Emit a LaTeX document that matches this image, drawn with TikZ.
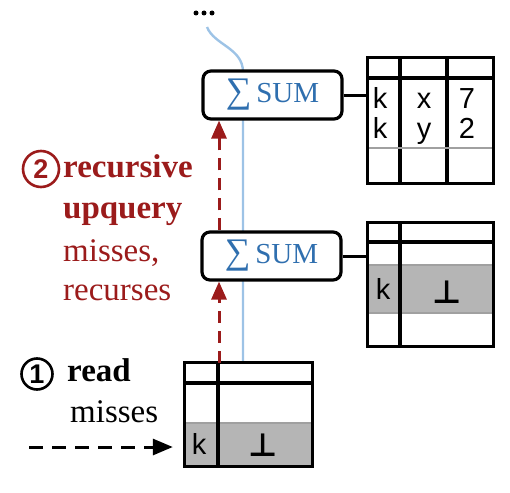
\documentclass[tikz,border=0pt]{standalone}
\usepackage{fontspec}
\setmainfont{Liberation Serif}
\newfontfamily\tabfont{Liberation Sans}
\newfontfamily\symfont{DejaVu Sans}
\usetikzlibrary{arrows.meta,calc}
\definecolor{myred}{HTML}{9B1B1B}
\definecolor{myblue}{HTML}{2F6FAF}
\definecolor{lineblue}{HTML}{9DC3E6}
\definecolor{cellgray}{HTML}{B5B5B5}
\definecolor{edgegray}{HTML}{A0A0A0}
\begin{document}
\begin{tikzpicture}[x=1pt,y=-1pt,
  sumbox/.style={draw,line width=3.2pt,rounded corners=8pt,fill=white,minimum width=139pt,minimum height=48pt,inner sep=0pt,text=myblue,font=\fontsize{29}{30}\selectfont},
  tabbox/.style={draw,line width=3.2pt,inner sep=0pt},
  grid/.style={line width=3.2pt},
  grayedge/.style={line width=2.8pt,draw=edgegray},
  cell/.style={font=\tabfont\fontsize{29}{29}\selectfont,inner sep=0pt,text height=20pt,text depth=0pt},
  bot/.style={font=\symfont\bfseries\fontsize{32}{32}\selectfont,inner sep=0pt},
  conn/.style={line width=3pt},
  reddash/.style={draw=myred,line width=3pt,dash pattern=on 12pt off 8pt,-{Triangle[length=18pt,width=15pt]}},
  blackdash/.style={line width=3pt,dash pattern=on 14pt off 9pt,-{Triangle[length=20pt,width=16pt]}},
  blueline/.style={draw=lineblue,line width=2.4pt},
  numcirc/.style={circle,line width=2.6pt,inner sep=0pt,font=\tabfont\bfseries\fontsize{27}{27}\selectfont},
  anno/.style={anchor=base west,inner sep=0pt,font=\fontsize{33}{36}\selectfont},
]
\useasboundingbox (0,0) rectangle (510,492);

% tables (outer nodes)
\node[minimum width=125pt,minimum height=125pt,inner sep=0pt] (t1) at (430.5,120.5) {};
\node[minimum width=125pt,minimum height=123pt,inner sep=0pt] (t2) at (430.5,284.5) {};
\node[minimum width=127pt,minimum height=103pt,inner sep=0pt] (t3) at (248.5,414.5) {};

% blue line (behind boxes)
\coordinate (dtop) at (207,27);
\coordinate (bx) at (243,0);
\draw[blueline] (dtop) .. controls (214,45) and (243,48) .. (243,72) -- (t3.north -| bx);

% dots
\fill (196,13) circle (2.5pt);
\fill (204,13) circle (2.5pt);
\fill (212,13) circle (2.5pt);

% SUM boxes
\node[sumbox] (s1) at (272.5,95) {{\fontsize{36}{36}\selectfont ∑}\,SUM};
\node[sumbox] (s2) at (271.5,256) {{\fontsize{36}{36}\selectfont ∑}\,SUM};

% table 1
\draw[grid] (368,78) -- (493,78);
\draw[grid] (400,58) -- (400,183);
\draw[grid] (447,58) -- (447,183);
\draw[grayedge] (368,148) -- (493,148);
\node[cell] at (380,98) {k};
\node[cell] at (424,98) {x};
\node[cell] at (467,98) {7};
\node[cell] at (380,128) {k};
\node[cell] at (424,128) {y};
\node[cell] at (467,128) {2};
\draw[tabbox] (t1.north west) rectangle (t1.south east);

% table 2
\fill[cellgray] (368,265) rectangle (493,313);
\draw[grayedge] (368,265) -- (493,265);
\draw[grayedge] (368,313) -- (493,313);
\draw[grid] (368,242) -- (493,242);
\draw[grid] (400,223) -- (400,346);
\node[cell] at (383,289) {k};
\node[bot] at (447,292) {⊥};
\draw[tabbox] (t2.north west) rectangle (t2.south east);

% table 3
\fill[cellgray] (185,423) rectangle (312,466);
\draw[grayedge] (185,423) -- (312,423);
\draw[grid] (185,383) -- (312,383);
\draw[grid] (218,363) -- (218,466);
\node[cell] at (199,444) {k};
\node[bot] at (263,445) {⊥};
\draw[tabbox] (t3.north west) rectangle (t3.south east);

% connectors box -> table
\draw[conn] (s1.east) -- (s1.east -| t1.west);
\draw[conn] (s2.east) -- (s2.east -| t2.west);

% red recursive upquery arrows
\coordinate (rx) at (219,0);
\draw[reddash] (t3.north -| rx) -- (s2.south -| rx);
\draw[reddash] (s2.north -| rx) -- (s1.south -| rx);

% black read arrow
\coordinate (rs) at (29,447);
\draw[blackdash,shorten >=12pt] (rs) -- (rs -| t3.west);

% annotations
\node[numcirc,draw=myred,text=myred,minimum size=36pt] (c2) at (41,169) {2};
\node[anno,text=myred,font=\bfseries\fontsize{33}{36}\selectfont] (r1) at (63,177) {recursive};
\node[anno,text=myred,font=\bfseries\fontsize{33}{36}\selectfont] (r2) at (63,218) {upquery};
\node[anno,text=myred] (r3) at (63,261) {misses,};
\node[anno,text=myred] (r4) at (63,300) {recurses};

\node[numcirc,draw=black,minimum size=31pt] (c1) at (37,374) {1};
\node[anno,font=\bfseries\fontsize{33}{36}\selectfont] (l1) at (67,381) {read};
\node[anno] (l2) at (70,422) {misses};
\end{tikzpicture}
\end{document}
